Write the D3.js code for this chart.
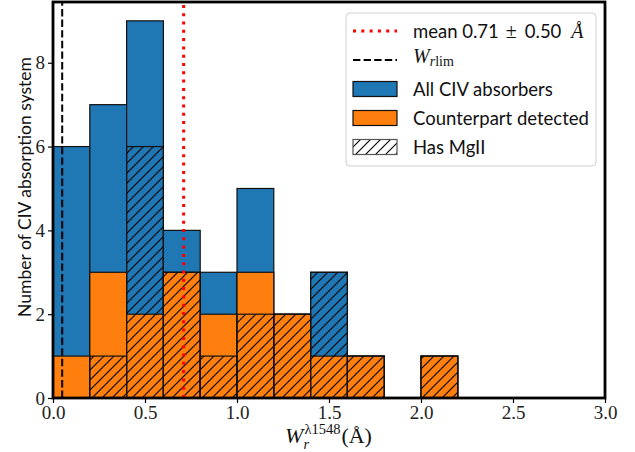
<!DOCTYPE html>
<html><head><meta charset="utf-8">
<script src="https://cdn.jsdelivr.net/npm/d3@7"></script>
<style>body{margin:0;background:#fff}</style>
</head><body>
<svg id="c" width="635" height="452"></svg>
<script>
const binEdges = [0,0.2,0.4,0.6,0.8,1.0,1.2,1.4,1.6,1.8,2.0,2.2];
const allCIV = [6,7,9,4,3,5,2,3,1,0,1];
const counterpart = [1,3,2,3,2,3,2,1,1,0,1];
const hasMgII = [0,1,6,3,1,2,2,3,1,0,1];
const xTicks = [0,0.5,1,1.5,2,2.5,3];
const yTicks = [0,2,4,6,8];
const meanW = 0.71, stdW = 0.50, wLim = 0.05;
const legendLabels = ["All CIV absorbers","Counterpart detected","Has MgII"];

const BLUE="#1f77b4", ORANGE="#ff7f0e";
const SERIF="'Liberation Serif','DejaVu Serif',serif";
const SANS="Lato,'DejaVu Sans',sans-serif";

const svg=d3.select("#c");
const L=53,R=605,T=2,B=398;
const x=d3.scaleLinear().domain([0,3]).range([L,R]);
const y=d3.scaleLinear().domain([0,9.45]).range([B,T]);

const defs=svg.append("defs");
const pat=defs.append("pattern").attr("id","hatch").attr("patternUnits","userSpaceOnUse")
  .attr("width",10).attr("height",10);
pat.append("path").attr("d","M-2,2 L2,-2 M0,10 L10,0 M8,12 L12,8")
  .attr("stroke","#000").attr("stroke-width",1.1);

function hist(vals, fill){
  const g=svg.append("g");
  g.selectAll("rect").data(vals.map((v,i)=>({v,i})).filter(d=>d.v>0)).join("rect")
    .attr("x",d=>x(binEdges[d.i])).attr("width",d=>x(binEdges[d.i+1])-x(binEdges[d.i]))
    .attr("y",d=>y(d.v)).attr("height",d=>y(0)-y(d.v))
    .attr("fill",fill).attr("stroke","#111").attr("stroke-width",1.2);
}
hist(allCIV,BLUE);
hist(counterpart,ORANGE);
hist(hasMgII,"url(#hatch)");

// vertical lines
svg.append("line").attr("x1",x(wLim)).attr("x2",x(wLim)).attr("y1",B).attr("y2",T)
  .attr("stroke","#000").attr("stroke-width",2).attr("stroke-dasharray","7.4,3.2");
svg.append("line").attr("x1",x(meanW)).attr("x2",x(meanW)).attr("y1",B).attr("y2",T)
  .attr("stroke","#ff0000").attr("stroke-width",3).attr("stroke-dasharray","3,5.3");

// axes
const xa=svg.append("g").attr("transform",`translate(0,${B})`)
  .call(d3.axisBottom(x).tickValues(xTicks).tickFormat(d3.format(".1f")).tickSize(5).tickPadding(3));
const ya=svg.append("g").attr("transform",`translate(${L},0)`)
  .call(d3.axisLeft(y).tickValues(yTicks).tickFormat(d3.format("d")).tickSize(5).tickPadding(3));
[xa,ya].forEach(a=>{
  a.select(".domain").remove();
  a.selectAll("line").attr("stroke","#000").attr("stroke-width",1.2);
  a.selectAll("text").attr("font-family",SERIF).attr("font-size",19).attr("fill","#222");
});

// frame
svg.append("rect").attr("x",L).attr("y",T).attr("width",R-L).attr("height",B-T)
  .attr("fill","none").attr("stroke","#000").attr("stroke-width",2.8);

// y label
svg.append("text").attr("transform",`translate(31,187) rotate(-90)`).attr("text-anchor","middle")
  .attr("font-family",SANS).attr("font-size",17.5).attr("fill","#111")
  .text("Number of CIV absorption system");

// x label
(function(){
  const g=svg.append("g");
  const bx=0, by=443;
  const w=g.append("text").attr("x",bx).attr("y",by).attr("font-family",SERIF).attr("font-style","italic")
    .attr("font-size",22).text("W");
  const ww=w.node().getComputedTextLength();
  const sup=g.append("text").attr("x",bx+ww+1).attr("y",by-9).attr("font-family",SERIF).attr("font-size",14.5).text("λ1548");
  g.append("text").attr("x",bx+ww).attr("y",by+6).attr("font-family",SERIF).attr("font-style","italic").attr("font-size",14.5).text("r");
  const sw=sup.node().getComputedTextLength();
  const p=g.append("text").attr("x",bx+ww+1+sw+1).attr("y",by).attr("font-family",SERIF).attr("font-size",22).text("(Å)");
  const tw=ww+sw+3+p.node().getComputedTextLength();
  g.attr("transform",`translate(${(L+R)/2-tw/2},0)`).attr("fill","#111");
})();

// legend
const lg=svg.append("g");
lg.append("rect").attr("x",346).attr("y",13).attr("width",250).attr("height",153).attr("rx",4)
  .attr("fill","#fff").attr("fill-opacity",0.85).attr("stroke","#d0d0d0").attr("stroke-width",1);
const rowY=[31,60,89,118,147];
const hx=353, hw=44, tx=413;
lg.append("line").attr("x1",hx).attr("x2",hx+hw).attr("y1",rowY[0]).attr("y2",rowY[0])
  .attr("stroke","#ff0000").attr("stroke-width",3).attr("stroke-dasharray","3,5.3");
lg.append("line").attr("x1",hx).attr("x2",hx+hw).attr("y1",rowY[1]).attr("y2",rowY[1])
  .attr("stroke","#000").attr("stroke-width",2).attr("stroke-dasharray","7.4,3.2");
(function(){
  const yb=rowY[0]+7; let cx=tx;
  const parts=[[`mean ${meanW.toFixed(2)}`,SANS,18.5,"normal",7],["±",SERIF,20,"normal",8],
               [`${stdW.toFixed(2)}`,SANS,18.5,"normal",10],["Å",SERIF,20,"italic",0]];
  parts.forEach(([s,f,fs,st,gap])=>{
    const t=lg.append("text").attr("x",cx).attr("y",yb).attr("font-family",f).attr("font-size",fs)
      .attr("font-style",st).attr("fill","#111").text(s);
    cx+=t.node().getComputedTextLength()+gap;
  });
})();
const r2=lg.append("text").attr("x",tx).attr("y",rowY[1]+3).attr("font-family",SERIF).attr("fill","#111");
r2.append("tspan").attr("font-style","italic").attr("font-size",20).text("W");
r2.append("tspan").attr("font-style","italic").attr("font-size",14).attr("dy",3).text("r");
r2.append("tspan").attr("font-size",14).text("lim");
const fills=[BLUE,ORANGE,"url(#hatch)"];
legendLabels.forEach((t,i)=>{
  const cy=rowY[i+2];
  if(i===2) lg.append("rect").attr("x",hx).attr("y",cy-7.5).attr("width",hw).attr("height",15).attr("fill","#fff");
  lg.append("rect").attr("x",hx).attr("y",cy-7.5).attr("width",hw).attr("height",15)
    .attr("fill",fills[i]).attr("stroke",i===2?"#555":"#111").attr("stroke-width",1.2);
  lg.append("text").attr("x",tx).attr("y",cy+7).attr("font-family",SANS).attr("font-size",18.5).attr("fill","#111").text(t);
});
</script>
</body></html>
